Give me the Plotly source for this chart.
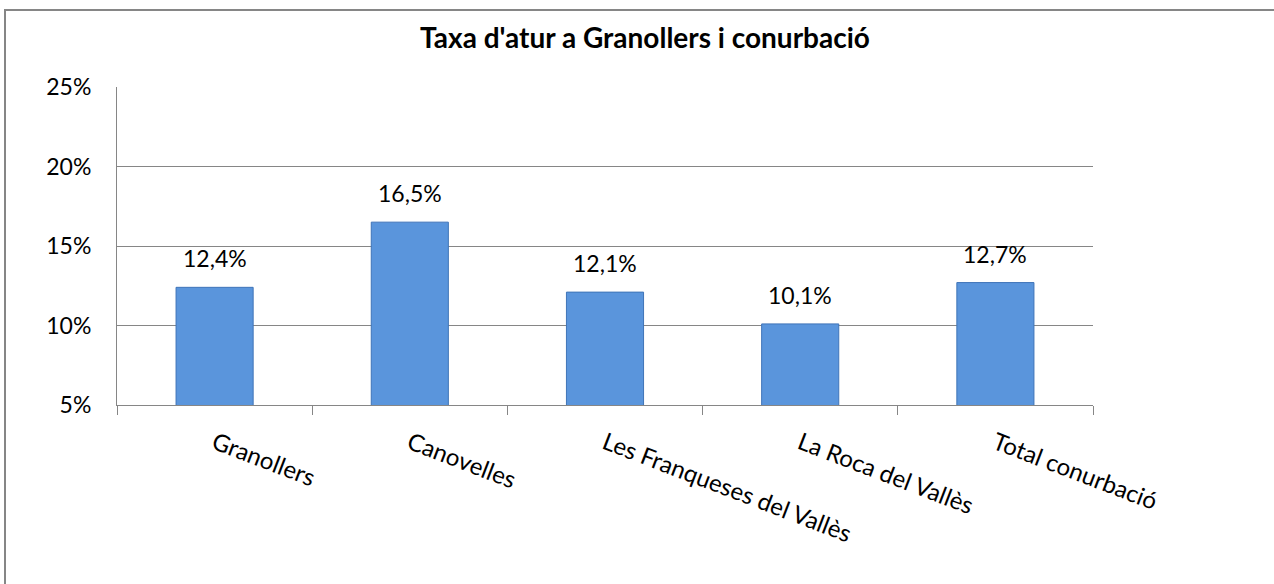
import plotly.graph_objects as go

categories = ["Granollers", "Canovelles", "Les Franqueses del Vallès", "La Roca del Vallès", "Total conurbació"]
values = [12.4, 16.5, 12.1, 10.1, 12.7]
y_ticks = [5, 10, 15, 20, 25]
title_text = "Taxa d'atur a Granollers i conurbació"

FONT = "Lato"
W, H = 1274, 584
L, R, T, B = 117, 181, 87, 179

fig = go.Figure()
fig.add_trace(go.Bar(
    x=categories, y=values,
    marker=dict(color="#5A95DC", line=dict(color="#3F74B8", width=1)),
    width=0.395,
    hoverinfo="x+y",
))

for c, v in zip(categories, values):
    fig.add_annotation(x=c, y=v, text=f"{v:.1f}%".replace(".", ","), showarrow=False,
                       yanchor="bottom", yshift=13,
                       font=dict(family=FONT, size=23, color="#000000"))

pw, ph = W - L - R, H - T - B
fig.update_layout(
    width=W, height=H,
    margin=dict(l=L, r=R, t=T, b=B, autoexpand=False),
    paper_bgcolor="white", plot_bgcolor="white",
    separators=",.",
    showlegend=False,
    title=dict(text="<b>" + title_text + "</b>", x=645 / W, xref="container", xanchor="center",
               y=1 - 38 / H, yref="container", yanchor="middle",
               font=dict(family=FONT, size=28, color="#000000")),
    font=dict(family=FONT, color="#000000"),
    shapes=[dict(type="rect", xref="paper", yref="paper",
                 x0=(5 - L) / pw, x1=(1300 - L) / pw,
                 y0=1 - (600 - T) / ph, y1=1 + (T - 10) / ph,
                 line=dict(color="#868686", width=2), fillcolor="rgba(0,0,0,0)", layer="below")],
)
fig.update_yaxes(range=[5, 25], tickvals=y_ticks, ticktext=[f"{v}%" for v in y_ticks],
                 showgrid=True, gridcolor="#868686", gridwidth=1,
                 showline=True, linecolor="#868686", linewidth=1,
                 ticks="", ticklabelstandoff=20,
                 tickfont=dict(family=FONT, size=23, color="#000000"), zeroline=False)
fig.update_xaxes(showline=True, linecolor="#868686", linewidth=1,
                 ticks="outside", tickson="boundaries", ticklen=9, tickcolor="#868686",
                 tickangle=21, ticklabelstandoff=14,
                 tickfont=dict(family=FONT, size=24, color="#000000"))

fig.write_html("out.html", config={"displayModeBar": False},
               post_script="document.body.style.margin='0';document.body.style.overflow='hidden';")
